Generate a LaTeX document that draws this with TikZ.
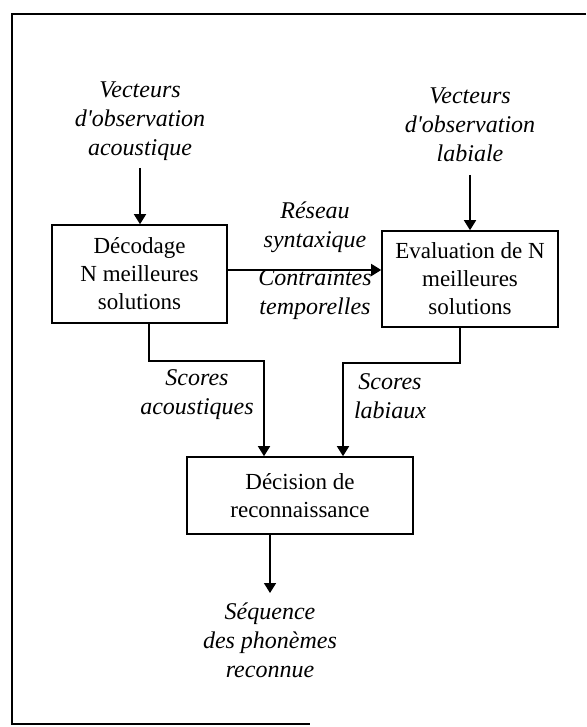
\documentclass[tikz,border=0pt]{standalone}
\usepackage{fontspec}
\setmainfont{Liberation Serif}
\usetikzlibrary{arrows.meta}
\begin{document}
\begin{tikzpicture}[x=1pt,y=1pt,
  blockbox/.style={draw,line width=1.6pt,align=center,inner sep=2pt,
    font=\fontsize{23}{28}\selectfont},
  lbl/.style={align=center,inner sep=1pt,font=\fontsize{24}{29}\selectfont\itshape},
  conn/.style={line width=1.6pt},
  arr/.style={conn,-{Triangle[length=10pt,width=12pt]}}]
\useasboundingbox (0,0) rectangle (586,-727);
% outer frame
\draw[line width=2.6pt] (586,-14) -- (12,-14) -- (12,-724) -- (310,-724);

% processing blocks
\node[blockbox,minimum width=175pt,minimum height=98pt] (dec) at (139.5,-274)
  {Décodage\\N meilleures\\solutions};
\node[blockbox,minimum width=176pt,minimum height=96pt] (eva) at (470,-279)
  {Evaluation de N\\meilleures\\solutions};
\node[blockbox,minimum width=226pt,minimum height=77pt] (dcs) at (300,-495.5)
  {Décision de\\reconnaissance};

% inputs
\node[lbl] (inA) at (140,-121) {Vecteurs\\d\textquotesingle observation\\acoustique};
\node[lbl] (inL) at (470,-125) {Vecteurs\\d\textquotesingle observation\\labiale};
\draw[arr] (140,-168) coordinate (a0) -- (dec.north -| a0);
\draw[arr] (470,-175) coordinate (l0) -- (eva.north -| l0);

% link between the two decoders
\coordinate (h) at (0,-270);
\draw[arr] (dec.east |- h) -- (eva.west |- h);
\node[lbl] (res) at (315,-227) {Réseau\\syntaxique};
\node[lbl] (con) at (315,-295) {Contraintes\\temporelles};

% score paths
\coordinate (sa) at (149,-361);
\coordinate (ka) at (264,-361);
\draw[arr] (dec.south -| sa) -- (sa) -- (ka) -- (dcs.north -| ka);
\coordinate (sl) at (460,-363);
\coordinate (kl) at (343,-363);
\draw[arr] (eva.south -| sl) -- (sl) -- (kl) -- (dcs.north -| kl);
\node[lbl] (scA) at (197,-395) {Scores\\acoustiques};
\node[lbl] (scL) at (390,-396) {Scores\\labiaux};

% output
\node[lbl] (out) at (270,-640) {Séquence\\des phonèmes\\reconnue};
\draw[arr] (dcs.south -| out) -- (270,-593);
\end{tikzpicture}
\end{document}
